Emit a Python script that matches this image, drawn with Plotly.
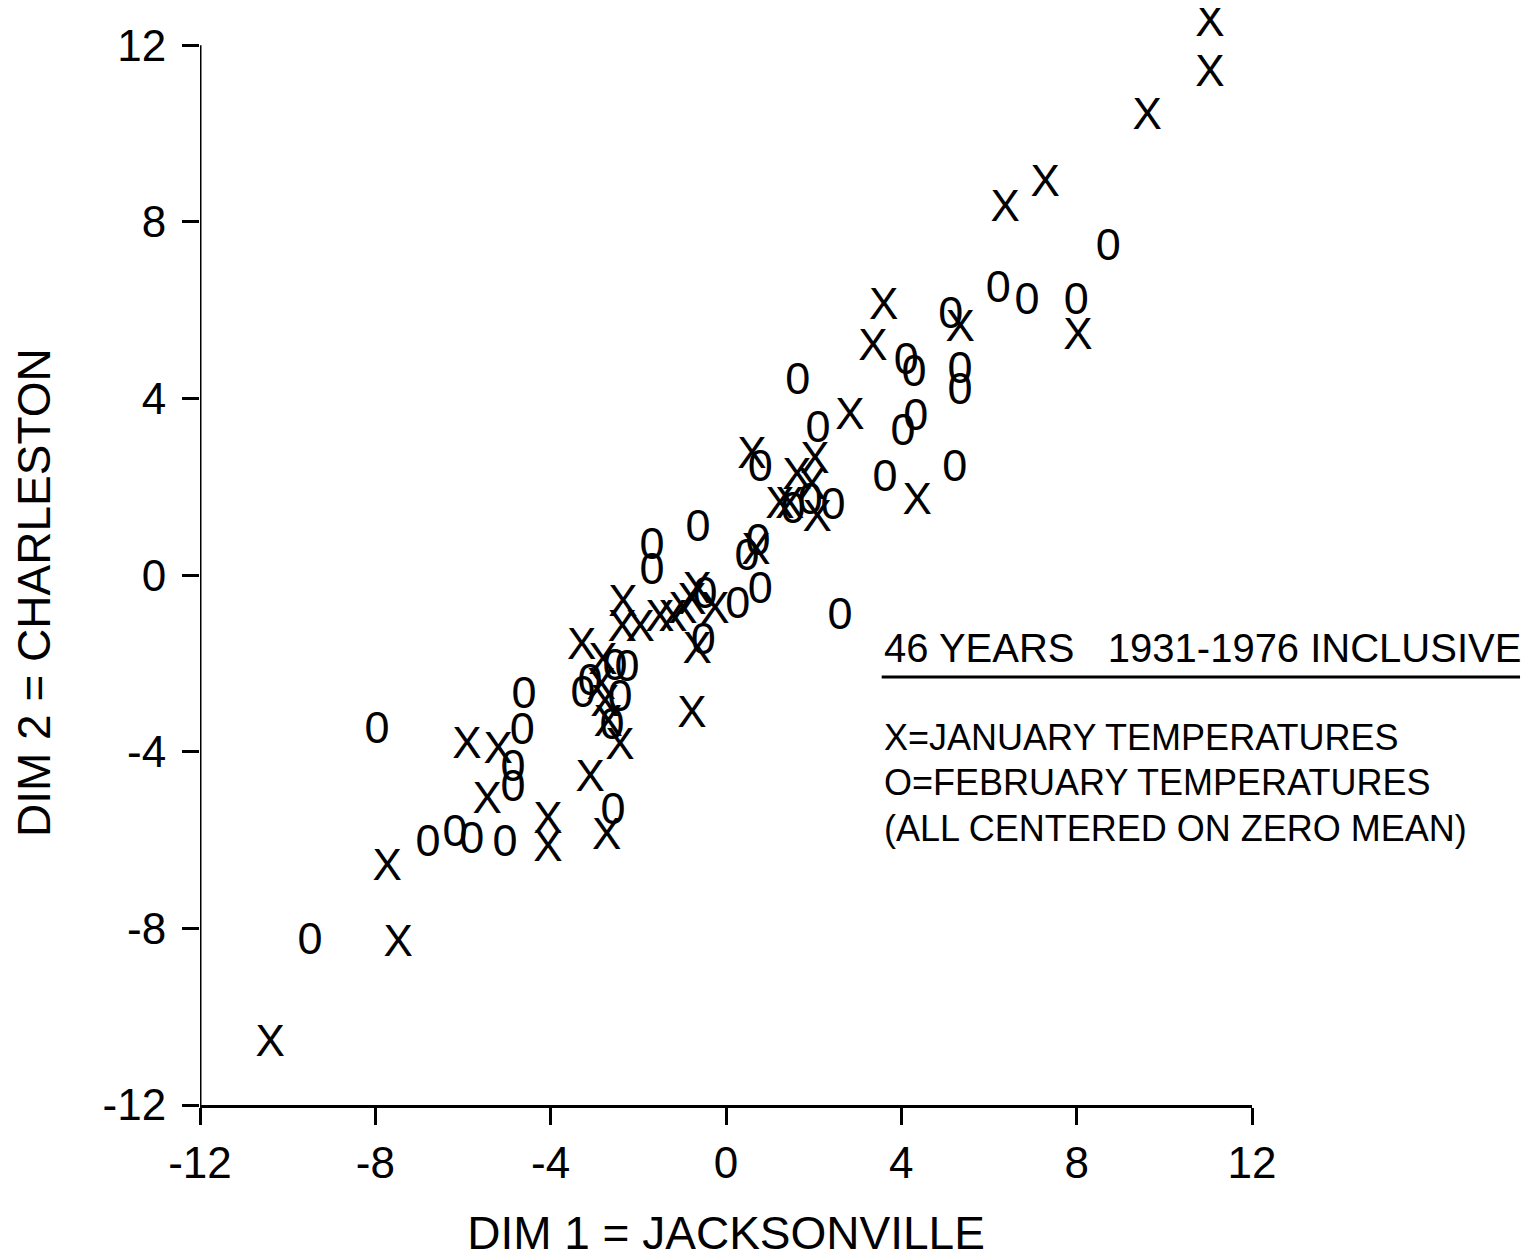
import plotly.graph_objects as go

# January temperatures (X markers): Jacksonville vs Charleston, centered on zero mean
jan_x = [11.04, 11.04, 9.61, 7.28, 6.37, 3.60, 3.35, 5.34, 8.03, 2.83, 4.36,
         0.59, 1.62, 2.03, 1.96, 1.23, 2.08, 0.68, -0.66, -0.78, -0.25, -0.66,
         -0.78, -0.98, -1.21, -1.51, -1.96, -2.37, -2.35, -3.29, -2.81, -2.76,
         -2.69, -2.42, -3.10, -2.72, -5.91, -5.20, -5.45, -4.06, -4.06, -7.73,
         -7.48, -10.40, -2.85, 1.45]
jan_y = [12.45, 11.32, 10.35, 8.83, 8.26, 6.04, 5.12, 5.55, 5.37, 3.55, 1.63,
         2.67, 2.20, 2.56, 1.97, 1.54, 1.25, 0.50, -1.74, -3.19, -0.84, -0.38,
         -0.62, -0.84, -1.02, -1.02, -1.25, -1.25, -0.68, -1.65, -1.99, -2.94,
         -3.40, -3.92, -4.64, -5.95, -3.89, -4.01, -5.14, -5.59, -6.23, -6.66,
         -8.38, -10.64, -2.55, 1.55]

# February temperatures (O markers)
feb_x = [8.72, 6.21, 6.87, 7.99, 5.13, 4.11, 4.29, 5.34, 5.34, 4.33, 4.04,
         5.22, 3.63, 1.64, 2.10, 0.78, 1.53, 1.92, 2.44, 0.73, 0.48, 0.78,
         0.27, -0.48, -0.52, 2.60, -0.64, -1.69, -1.69, -4.61, -4.65, -4.86,
         -4.86, -7.96, -6.80, -6.18, -5.80, -5.04, -9.49, -2.58, -3.26, -3.10,
         -2.53, -2.26, -2.42, -2.60]
feb_y = [7.40, 6.45, 6.18, 6.18, 5.86, 4.82, 4.55, 4.60, 4.14, 3.55, 3.21,
         2.38, 2.15, 4.35, 3.28, 2.38, 1.43, 1.63, 1.52, 0.72, 0.38, -0.38,
         -0.72, -0.50, -1.54, -0.97, 1.02, 0.61, 0.05, -2.76, -3.58, -4.41,
         -4.87, -3.55, -6.11, -5.89, -6.04, -6.11, -8.33, -5.39, -2.72, -2.45,
         -2.11, -2.15, -2.83, -3.46]

tick_vals = [-12, -8, -4, 0, 4, 8, 12]
tick_text = ["-12", "-8", "-4", "0", "4", "8", "12"]
axis_min, axis_max = -12, 12

FONT = "Liberation Sans"

fig = go.Figure()
fig.add_trace(go.Scatter(
    x=jan_x, y=jan_y, mode="text", text=["X"] * len(jan_x),
    textposition="middle center",
    textfont=dict(family=FONT, size=44, color="black"),
    cliponaxis=False, name="January", showlegend=False))
fig.add_trace(go.Scatter(
    x=feb_x, y=feb_y, mode="text", text=["0"] * len(feb_x),
    textposition="middle center",
    textfont=dict(family=FONT, size=45, color="black"),
    cliponaxis=False, name="February", showlegend=False))

axis_common = dict(
    tickvals=tick_vals, ticktext=tick_text,
    ticks="outside", ticklen=17, tickwidth=3, tickcolor="black",
    linewidth=3, linecolor="black",
    showgrid=False, zeroline=False, automargin=False,
    tickfont=dict(family=FONT, size=44, color="black"),
)

fig.update_layout(
    width=1523, height=1251,
    margin=dict(l=192, r=279, t=2, b=154),
    plot_bgcolor="white", paper_bgcolor="white",
    font=dict(family=FONT, color="black"),
    xaxis=dict(**axis_common, range=[axis_min, axis_max], showline=True,
               title=dict(text="DIM 1 = JACKSONVILLE",
                          font=dict(family=FONT, size=46, color="black"),
                          standoff=32)),
    yaxis=dict(**axis_common, range=[axis_min, 12.8], showline=False,
               ticklabelstandoff=7),
)

# left axis line stops at the top tick (12)
fig.add_shape(type="line", xref="x", yref="y",
              x0=axis_min, x1=axis_min, y0=axis_min, y1=axis_max,
              line=dict(color="black", width=3))

# y-axis title, centred on the -12..12 span
fig.add_annotation(xref="paper", yref="paper", x=-0.1578, y=0.4685,
                   xanchor="center", yanchor="middle", showarrow=False,
                   textangle=-90, text="DIM 2 = CHARLESTON",
                   font=dict(family=FONT, size=46, color="black"))

fig.add_annotation(xref="paper", yref="paper", x=0.648, y=0.4174,
                   xanchor="left", yanchor="middle", showarrow=False,
                   text="46 YEARS   1931-1976 INCLUSIVE",
                   font=dict(family=FONT, size=40, color="black"))
fig.add_shape(type="line", xref="paper", yref="paper",
              x0=0.648, x1=1.2548, y0=0.3909, y1=0.3909,
              line=dict(color="black", width=3))
for txt, yy in [("X=JANUARY TEMPERATURES", 0.3352),
                ("O=FEBRUARY TEMPERATURES", 0.2941),
                ("(ALL CENTERED ON ZERO MEAN)", 0.2521)]:
    fig.add_annotation(xref="paper", yref="paper", x=0.648, y=yy,
                       xanchor="left", yanchor="middle", showarrow=False,
                       text=txt, font=dict(family=FONT, size=36, color="black"))

fig.write_html("out.html")
